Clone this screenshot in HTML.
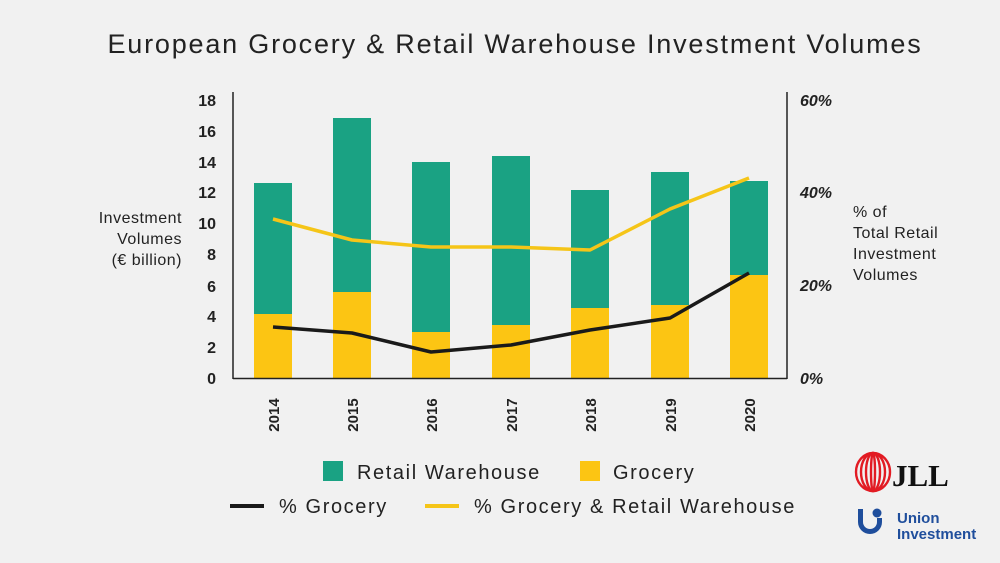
<!DOCTYPE html>
<html><head><meta charset="utf-8"><style>
html,body{margin:0;padding:0;background:#f1f1f1;}
svg{display:block;font-family:"Liberation Sans",sans-serif;}
</style></head><body>
<svg width="1000" height="563" viewBox="0 0 1000 563">
<rect width="1000" height="563" fill="#f1f1f1"/>
<text x="515" y="53" text-anchor="middle" font-size="27" letter-spacing="1.8" fill="#222">European Grocery &amp; Retail Warehouse Investment Volumes</text>
<g font-size="16" font-weight="bold" fill="#222" text-anchor="end">
<text x="216" y="106">18</text><text x="216" y="137">16</text><text x="216" y="168">14</text><text x="216" y="198">12</text><text x="216" y="229">10</text><text x="216" y="260">8</text><text x="216" y="292">6</text><text x="216" y="322">4</text><text x="216" y="353">2</text><text x="216" y="384">0</text>
</g>
<g font-size="16" font-weight="bold" fill="#222" font-style="italic">
<text x="800" y="106">60%</text><text x="800" y="198">40%</text><text x="800" y="291">20%</text><text x="800" y="384">0%</text>
</g>
<g font-size="16" fill="#222" text-anchor="end" letter-spacing="0.5">
<text x="182" y="223">Investment</text><text x="182" y="244">Volumes</text><text x="182" y="265">(€ billion)</text>
</g>
<g font-size="16" fill="#222" letter-spacing="0.5">
<text x="853" y="217">% of</text><text x="853" y="238">Total Retail</text><text x="853" y="259">Investment</text><text x="853" y="280">Volumes</text>
</g>
<g>
<rect x="254" y="183" width="38" height="131" fill="#1aa283"/><rect x="254" y="314" width="38" height="64" fill="#fcc513"/>
<rect x="333" y="118" width="38" height="174" fill="#1aa283"/><rect x="333" y="292" width="38" height="86" fill="#fcc513"/>
<rect x="412" y="162" width="38" height="170" fill="#1aa283"/><rect x="412" y="332" width="38" height="46" fill="#fcc513"/>
<rect x="492" y="156" width="38" height="169" fill="#1aa283"/><rect x="492" y="325" width="38" height="53" fill="#fcc513"/>
<rect x="571" y="190" width="38" height="118" fill="#1aa283"/><rect x="571" y="308" width="38" height="70" fill="#fcc513"/>
<rect x="651" y="172" width="38" height="133" fill="#1aa283"/><rect x="651" y="305" width="38" height="73" fill="#fcc513"/>
<rect x="730" y="181" width="38" height="94" fill="#1aa283"/><rect x="730" y="275" width="38" height="103" fill="#fcc513"/>
</g>
<polyline points="273,219 352,240 431,247 511,247 590,250 670,209 749,178" fill="none" stroke="#f5c518" stroke-width="3.5" stroke-linejoin="round"/>
<polyline points="273,327 352,333 431,352 511,345 590,330 670,318 749,273" fill="none" stroke="#1a1a1a" stroke-width="3.5" stroke-linejoin="round"/>
<line x1="233" y1="92" x2="233" y2="379" stroke="#222" stroke-width="1.5"/>
<line x1="787" y1="92" x2="787" y2="379" stroke="#222" stroke-width="1.5"/>
<line x1="233" y1="378.5" x2="787" y2="378.5" stroke="#222" stroke-width="1.5"/>
<g font-size="15" font-weight="bold" fill="#222" text-anchor="middle">
<text transform="translate(279,415) rotate(-90)">2014</text>
<text transform="translate(358,415) rotate(-90)">2015</text>
<text transform="translate(437,415) rotate(-90)">2016</text>
<text transform="translate(517,415) rotate(-90)">2017</text>
<text transform="translate(596,415) rotate(-90)">2018</text>
<text transform="translate(676,415) rotate(-90)">2019</text>
<text transform="translate(755,415) rotate(-90)">2020</text>
</g>
<g font-size="20" fill="#222" letter-spacing="1.6">
<rect x="323" y="461" width="20" height="20" fill="#1aa283"/>
<text x="357" y="479">Retail Warehouse</text>
<rect x="580" y="461" width="20" height="20" fill="#fcc513"/>
<text x="613" y="479">Grocery</text>
<line x1="230" y1="506" x2="264" y2="506" stroke="#1a1a1a" stroke-width="4"/>
<text x="279" y="513">% Grocery</text>
<line x1="425" y1="506" x2="459" y2="506" stroke="#f5c518" stroke-width="4"/>
<text x="474" y="513">% Grocery &amp; Retail Warehouse</text>
</g>
<g fill="none" stroke="#e21b23" stroke-width="2.4">
<ellipse cx="873" cy="472" rx="17" ry="19"/>
<ellipse cx="873" cy="472" rx="12" ry="19"/>
<ellipse cx="873" cy="472" rx="7" ry="19"/>
<ellipse cx="873" cy="472" rx="2" ry="19"/>
</g>
<text x="892" y="486" font-family="Liberation Serif,serif" font-size="31" font-weight="bold" fill="#111">JLL</text>
<circle cx="877" cy="513" r="4.5" fill="#1f4e9c"/>
<path d="M858 509 v13 a12 12 0 0 0 24 0 v-4 h-5 v4 a7 7 0 0 1 -14 0 v-13 z" fill="#1f4e9c"/>
<text x="897" y="523" font-size="15" font-weight="bold" fill="#1f4e9c">Union</text>
<text x="897" y="539" font-size="15" font-weight="bold" fill="#1f4e9c">Investment</text>
</svg>
</body></html>
